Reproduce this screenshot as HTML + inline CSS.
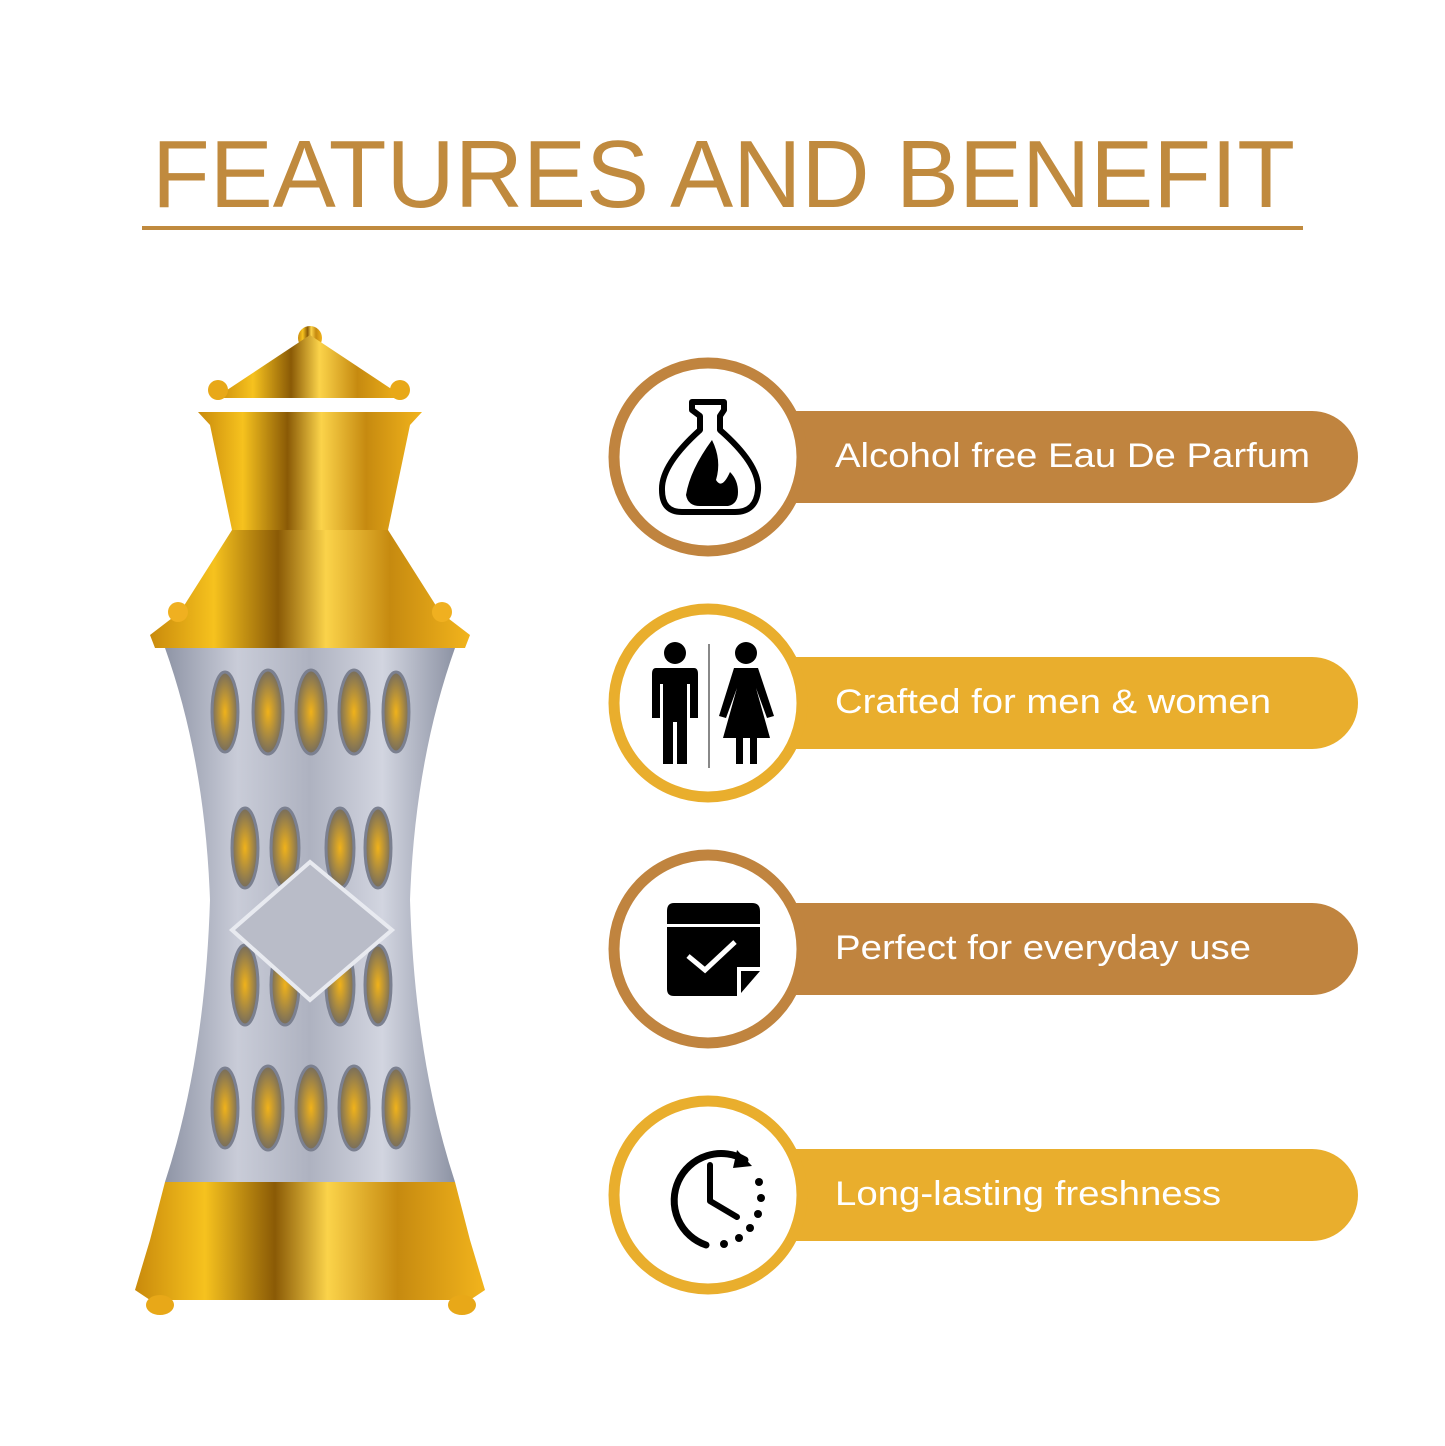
<!DOCTYPE html>
<html><head><meta charset="utf-8"><style>
html,body{margin:0;padding:0;background:#fff;}
svg{display:block}
text{font-family:"Liberation Sans",Arial,sans-serif}
</style></head><body>
<svg width="1445" height="1446" viewBox="0 0 1445 1446" xmlns="http://www.w3.org/2000/svg">
<defs>
<linearGradient id="gold" x1="0" x2="1" y1="0" y2="0">
<stop offset="0" stop-color="#c98a0c"/><stop offset="0.2" stop-color="#f6c21e"/><stop offset="0.4" stop-color="#8a5a06"/><stop offset="0.55" stop-color="#fbd34a"/><stop offset="0.75" stop-color="#c68a10"/><stop offset="1" stop-color="#f2b41c"/>
</linearGradient>
<linearGradient id="silver" x1="0" x2="1" y1="0" y2="0">
<stop offset="0" stop-color="#8f95a6"/><stop offset="0.25" stop-color="#c9ccd8"/><stop offset="0.5" stop-color="#aeb2c0"/><stop offset="0.75" stop-color="#d2d5e0"/><stop offset="1" stop-color="#8d93a4"/>
</linearGradient>
<radialGradient id="hole" cx="0.5" cy="0.5" r="0.6">
<stop offset="0" stop-color="#f0b21a"/><stop offset="1" stop-color="#5e5f6a"/>
</radialGradient>
</defs>
<rect width="1445" height="1446" fill="#fff"/>
<text x="152" y="207" font-size="96" fill="#c08a3e" textLength="1143" lengthAdjust="spacingAndGlyphs">FEATURES AND BENEFIT</text>
<rect x="142" y="226" width="1161" height="4" fill="#c08a3e"/>

<!-- bottle -->
<g>
<circle cx="310" cy="338" r="12" fill="url(#gold)"/>
<path d="M310 335 L215 398 L405 398 Z" fill="url(#gold)"/>
<circle cx="218" cy="390" r="10" fill="#e8a818"/><circle cx="400" cy="390" r="10" fill="#e8a818"/>
<path d="M198 412 L422 412 L410 425 L388 530 L232 530 L210 425 Z" fill="url(#gold)"/>
<path d="M232 530 L388 530 L440 612 L470 635 L465 648 L155 648 L150 635 L180 612 Z" fill="url(#gold)"/>
<circle cx="178" cy="612" r="10" fill="#f0b020"/><circle cx="442" cy="612" r="10" fill="#f0b020"/>
<path d="M165 648 L455 648 Q415 760 410 900 Q415 1060 455 1182 L165 1182 Q205 1060 210 900 Q205 760 165 648 Z" fill="url(#silver)"/>
<g fill="url(#hole)" stroke="#7b8090" stroke-width="3">
<ellipse cx="225" cy="712" rx="13" ry="40"/><ellipse cx="268" cy="712" rx="15" ry="42"/><ellipse cx="311" cy="712" rx="15" ry="42"/><ellipse cx="354" cy="712" rx="15" ry="42"/><ellipse cx="396" cy="712" rx="13" ry="40"/>
<ellipse cx="245" cy="848" rx="13" ry="40"/><ellipse cx="285" cy="848" rx="14" ry="40"/><ellipse cx="340" cy="848" rx="14" ry="40"/><ellipse cx="378" cy="848" rx="13" ry="40"/>
<ellipse cx="245" cy="985" rx="13" ry="40"/><ellipse cx="285" cy="985" rx="14" ry="40"/><ellipse cx="340" cy="985" rx="14" ry="40"/><ellipse cx="378" cy="985" rx="13" ry="40"/>
<ellipse cx="225" cy="1108" rx="13" ry="40"/><ellipse cx="268" cy="1108" rx="15" ry="42"/><ellipse cx="311" cy="1108" rx="15" ry="42"/><ellipse cx="354" cy="1108" rx="15" ry="42"/><ellipse cx="396" cy="1108" rx="13" ry="40"/>
</g>
<path d="M232 930 L310 862 L392 930 L310 1000 Z" fill="#b9bcc8" stroke="#e8eaf0" stroke-width="4"/>
<path d="M165 1182 L455 1182 L470 1240 L485 1290 L470 1300 L150 1300 L135 1290 L150 1240 Z" fill="url(#gold)"/>
<ellipse cx="160" cy="1305" rx="14" ry="10" fill="#e8a818"/><ellipse cx="462" cy="1305" rx="14" ry="10" fill="#e8a818"/>
</g>

<!-- rows -->
<g>
<rect x="720" y="411" width="638" height="92" rx="46" fill="#c0843f"/>
<circle cx="708" cy="457" r="94" fill="#fff" stroke="#c0843f" stroke-width="11"/>
<text x="835" y="467" font-size="34" fill="#fff" textLength="475" lengthAdjust="spacingAndGlyphs">Alcohol free Eau De Parfum</text>
<path d="M692 402 L724 402 L724 410 L720 416 L720 430 Q760 465 758 490 Q756 512 735 512 L682 512 Q662 512 662 490 Q661 465 700 430 L700 416 L692 410 Z" fill="none" stroke="#000" stroke-width="6" stroke-linejoin="round"/>
<path d="M712 440 Q690 470 686 495 Q688 506 700 506 L728 506 Q738 504 738 492 Q738 480 730 472 Q722 490 716 480 Q722 460 712 440 Z" fill="#000"/>

<rect x="720" y="657" width="638" height="92" rx="46" fill="#e9ae2d"/>
<circle cx="708" cy="703" r="94" fill="#fff" stroke="#e9ae2d" stroke-width="11"/>
<text x="835" y="713" font-size="34" fill="#fff" textLength="436" lengthAdjust="spacingAndGlyphs">Crafted for men &amp; women</text>
<circle cx="675" cy="653" r="11" fill="#000"/>
<path d="M656 668 Q652 668 652 674 L652 718 L660 718 L660 684 L663 684 L663 764 L673 764 L673 722 L677 722 L677 764 L687 764 L687 684 L690 684 L690 718 L698 718 L698 674 Q698 668 694 668 Z" fill="#000"/>
<rect x="708" y="644" width="2" height="124" fill="#888"/>
<circle cx="746" cy="653" r="11" fill="#000"/>
<path d="M734 668 L758 668 L774 716 L767 718 L756 688 L770 738 L757 738 L757 764 L750 764 L750 738 L743 738 L743 764 L736 764 L736 738 L723 738 L737 688 L726 718 L719 716 Z" fill="#000"/>

<rect x="720" y="903" width="638" height="92" rx="46" fill="#c0843f"/>
<circle cx="708" cy="949" r="94" fill="#fff" stroke="#c0843f" stroke-width="11"/>
<text x="835" y="959" font-size="34" fill="#fff" textLength="416" lengthAdjust="spacingAndGlyphs">Perfect for everyday use</text>
<path d="M674 903 L752 903 Q760 903 760 911 L760 967 L737 967 L737 996 L674 996 Q667 996 667 989 L667 911 Q667 903 674 903 Z" fill="#000"/>
<rect x="667" y="924" width="93" height="3" fill="#fff"/>
<path d="M741 971 L760 971 L741 993 Z" fill="#000"/>
<path d="M688 956 L705 970 L735 942" fill="none" stroke="#fff" stroke-width="5"/>

<rect x="720" y="1149" width="638" height="92" rx="46" fill="#e9ae2d"/>
<circle cx="708" cy="1195" r="94" fill="#fff" stroke="#e9ae2d" stroke-width="11"/>
<text x="835" y="1205" font-size="34" fill="#fff" textLength="386" lengthAdjust="spacingAndGlyphs">Long-lasting freshness</text>
<path d="M706 1245 A47 47 0 1 1 745 1160" fill="none" stroke="#000" stroke-width="7" stroke-linecap="round"/>
<path d="M737 1150 L752 1166 L733 1168 Z" fill="#000"/>
<g fill="#000"><circle cx="759" cy="1182" r="4"/><circle cx="761" cy="1198" r="4"/><circle cx="758" cy="1214" r="4"/><circle cx="750" cy="1228" r="4"/><circle cx="739" cy="1238" r="4"/><circle cx="724" cy="1244" r="4"/></g>
<path d="M710 1165 L710 1201 L737 1217" fill="none" stroke="#000" stroke-width="6" stroke-linecap="round" stroke-linejoin="round"/>
</g>
</svg>
</body></html>
